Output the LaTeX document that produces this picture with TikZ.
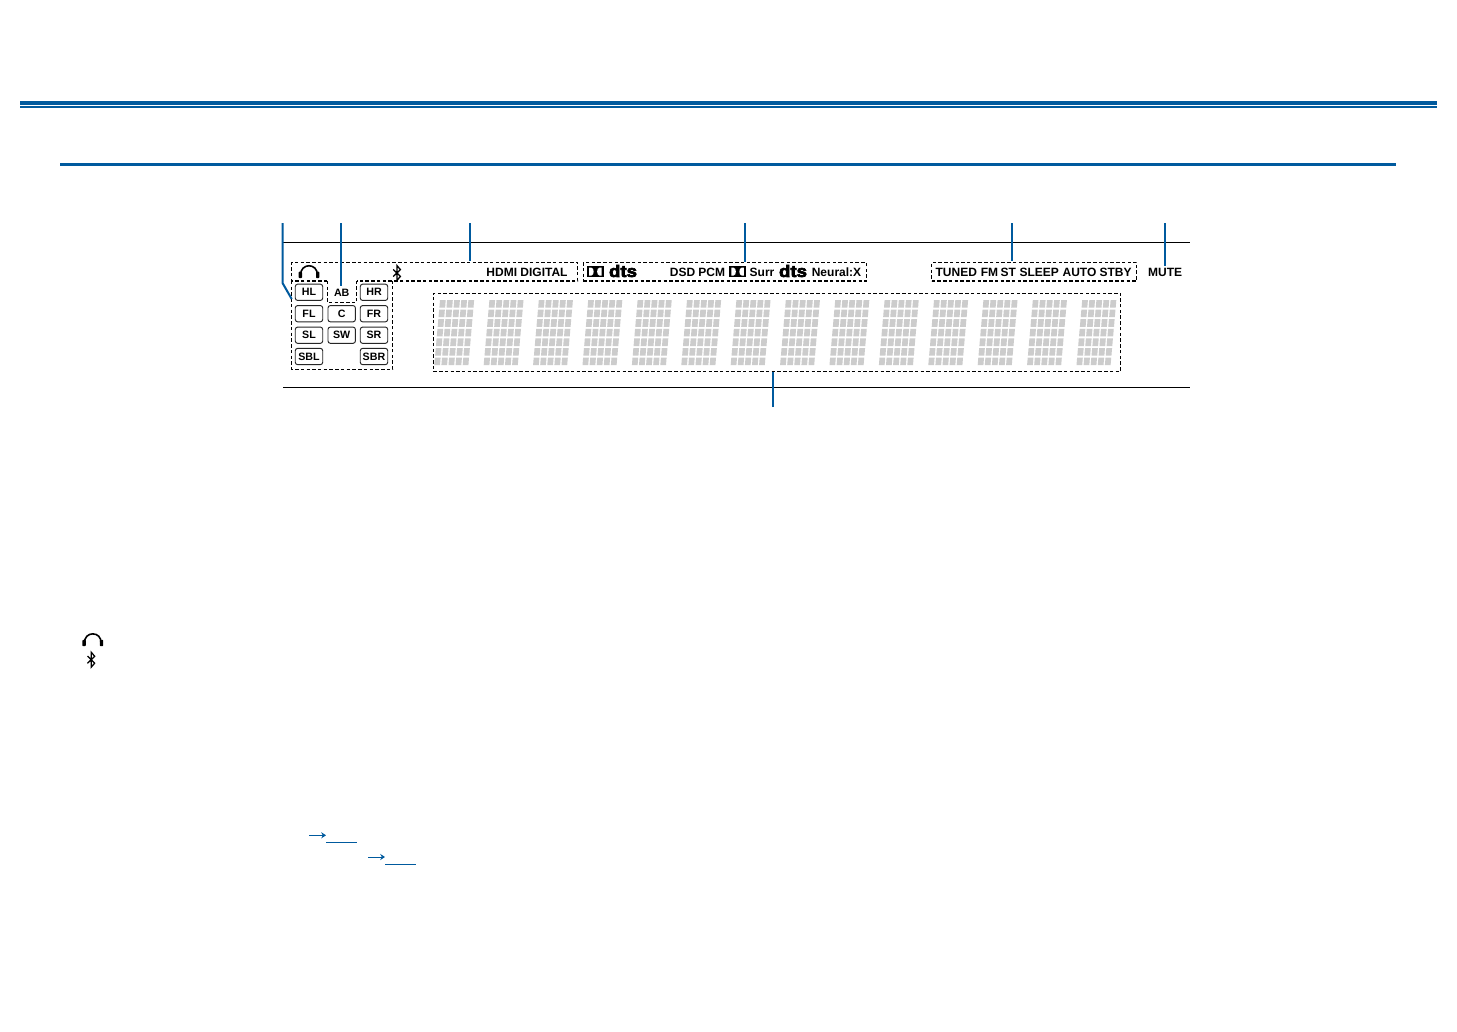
\documentclass[tikz,border=0pt]{standalone}
\usepackage{fontspec}
\usetikzlibrary{arrows.meta}
\setmainfont{Liberation Sans}
\newfontfamily\dtsfont[FakeBold=4,FakeStretch=1.12]{Liberation Sans}
\definecolor{bandblue}{HTML}{005A9E}
\definecolor{segray}{HTML}{CCCCCC}
\newcommand{\headset}[2]{%
  \begin{scope}[shift={(#1,#2)}]
    \draw[line width=1.2pt,black] (-8.2,4) .. controls (-9.4,-9) and (9.4,-9) .. (8.2,4);
    \fill[black,rounded corners=0.6pt] (-10.4,0.2) rectangle (-7,6.6);
    \fill[black,rounded corners=0.6pt] (7,0.2) rectangle (10.4,6.6);
  \end{scope}}
\newcommand{\btrune}[2]{%
  \begin{scope}[shift={(#1,#2)}]
    \draw[line width=0.95pt,black,line join=miter] (-3.8,-3.6) -- (3.4,3.4) -- (0,7.4) -- (0,-7.4) -- (3.4,-3.4) -- (-3.8,3.6);
  \end{scope}}
\newcommand{\dolbymark}[2]{%
  \begin{scope}[shift={(#1,#2)}]
    \fill[black] (-8.7,-5.8) rectangle (8.7,5.8);
    \fill[white] (-6.2,-3.9) -- (-4,-3.9) .. controls (-1,-3.9) and (-1,3.9) .. (-4,3.9) -- (-6.2,3.9) -- cycle;
    \fill[white] (6.2,-3.9) -- (4,-3.9) .. controls (1,-3.9) and (1,3.9) .. (4,3.9) -- (6.2,3.9) -- cycle;
  \end{scope}}
\tikzset{
  leader/.style={draw=bandblue,line width=1.5pt},
  rulek/.style={draw=black,line width=0.75pt},
  dbox/.style={draw=black,line width=0.85pt,dash pattern=on 2.6pt off 1.7pt},
  dboxn/.style={dbox,rectangle,inner sep=0pt},
  spk/.style={draw=black!85,line width=0.7pt,rounded corners=1.8pt,minimum width=20.6pt,minimum height=12.2pt,inner sep=0pt,font=\fontsize{8}{9}\selectfont\bfseries},
  lab/.style={inner sep=0pt,font=\fontsize{9}{10}\selectfont\bfseries},
  dtslab/.style={inner sep=0pt,font=\fontsize{12.5}{14}\dtsfont\bfseries},
  link/.style={draw=bandblue,line width=0.75pt},
}
\begin{document}
\begin{tikzpicture}[x=0.75pt,y=-0.75pt]
\useasboundingbox (0,0) rectangle (1457,1032);
\fill[white] (0,0) rectangle (1457,1032);
% header bands
\fill[bandblue] (20,101) rectangle (1437,105.2);
\fill[bandblue] (20,106.2) rectangle (1437,108);
\fill[bandblue] (60,163) rectangle (1396,166);
% display rules
\coordinate (ruleTL) at (283,242.3);
\coordinate (ruleTR) at (1190,242.3);
\coordinate (ruleBL) at (283,387.3);
\coordinate (ruleBR) at (1190,387.3);
\draw[rulek] (ruleTL) -- (ruleTR);
\draw[rulek] (ruleBL) -- (ruleBR);
% dashed groups
\coordinate (a1) at (291.7,262.4);
\coordinate (a2) at (577.7,262.4);
\coordinate (a3) at (577.7,281);
\coordinate (a4) at (356.7,281);
\coordinate (a5) at (327.3,281);
\coordinate (a6) at (291.7,281);
\coordinate (a7) at (291.7,369.4);
\coordinate (a8) at (392.7,369.4);
\coordinate (a9) at (392.7,281);
\coordinate (a10) at (327.3,302.3);
\coordinate (a11) at (356.7,302.3);
\draw[dbox] (a5) -- (a6) -- (a1) -- (a2) -- (a3) -- (a4);
\draw[dbox] (a6) -- (a7) -- (a8) -- (a9);
\draw[dbox] (a5) -- (a10) -- (a11) -- (a4);
\node[dboxn,minimum width={283.4*0.75pt},minimum height={18.4*0.75pt}] (boxfmt) at (725,271.8) {};
\node[dboxn,minimum width={205*0.75pt},minimum height={18.6*0.75pt}] (boxtun) at (1034.2,271.7) {};
\node[dboxn,minimum width={687.4*0.75pt},minimum height={77.8*0.75pt}] (boxmsg) at (777,332.2) {};
% 14 dot-matrix digits
\foreach \d in {0,...,13}{
  \foreach \r in {0,...,6}{
    \foreach \c in {0,...,4}{
      \pgfmathsetmacro{\xx}{440+49.4*\d+7.1*\c-0.85*\r}
      \pgfmathsetmacro{\yy}{300+9.6*\r}
      \fill[segray] (\xx,\yy) -- ++(5.7,0) -- ++(-0.6,7.6) -- ++(-5.7,0) -- cycle;
    }
  }
}
% speaker buttons
\node[spk] (hl) at (309,292.3) {HL};
\node[inner sep=0pt,font=\fontsize{8}{9}\selectfont\bfseries] (ab) at (341.7,292.5) {AB};
\node[spk] (hr) at (374,292.3) {HR};
\node[spk] (fl) at (309,313.7) {FL};
\node[spk] (cc) at (341.7,313.7) {C};
\node[spk] (fr) at (374,313.7) {FR};
\node[spk] (sl) at (309,335.2) {SL};
\node[spk] (sw) at (341.7,335.2) {SW};
\node[spk] (sr) at (374,335.2) {SR};
\node[spk] (sbl) at (309,356.5) {SBL};
\node[spk] (sbr) at (374,356.5) {SBR};
% format indicators
\headset{309}{271.5}
\btrune{397}{273}
\node[lab] (hdmi) at (527,272) {HDMI DIGITAL};
\dolbymark{595.4}{271.6}
\node[dtslab] (dtsa) at (623,271) {dts};
\node[lab] (dsd) at (697.5,272) {DSD PCM};
\dolbymark{737.6}{271.6}
\node[lab] (surr) at (762,272) {Surr};
\node[dtslab] (dtsb) at (793,271) {dts};
\node[lab] (neural) at (836.5,272) {Neural:X};
\node[lab] (tuned) at (956.3,272) {TUNED};
\node[lab] (fm) at (989.5,272) {FM};
\node[lab] (st) at (1008.3,272) {ST};
\node[lab] (sleep) at (1039.2,272) {SLEEP};
\node[lab] (auto) at (1079.5,272) {AUTO};
\node[lab] (stby) at (1115.5,272) {STBY};
\node[lab] (mute) at (1165.2,272) {MUTE};
% leaders
\coordinate (t1) at (282.7,223);
\coordinate (k1) at (282.7,283.3);
\coordinate (e1) at (291.7,299);
\coordinate (t2) at (340.7,223);
\coordinate (e2) at (340.7,286);
\coordinate (t3) at (470,223);
\coordinate (e3) at (470,260.7);
\coordinate (t4) at (745,223);
\coordinate (t5) at (1011.7,223);
\coordinate (e5) at (1011.7,260.7);
\coordinate (t6) at (1165,223);
\coordinate (e6) at (1165,265.7);
\coordinate (t7) at (773.3,407);
\draw[leader] (t1) -- (k1) -- (e1);
\draw[leader] (t2) -- (e2);
\draw[leader] (t3) -- (e3);
\draw[leader] (t4) -- (t4 |- boxfmt.north);
\draw[leader] (t5) -- (e5);
\draw[leader] (t6) -- (e6);
\draw[leader] (t7) -- (t7 |- boxmsg.south);
% legend icons
\headset{92.8}{639.6}
\btrune{91.3}{659.7}
% cross references
\coordinate (r1a) at (309,835.3);
\coordinate (r1b) at (326,835.3);
\coordinate (r1c) at (356.7,842.3);
\coordinate (r1d) at (326,842.3);
\coordinate (r2a) at (368.3,857);
\coordinate (r2b) at (385,857);
\coordinate (r2c) at (416,864);
\coordinate (r2d) at (385,864);
\draw[link,-{Stealth[length=3.6pt,width=4.6pt,inset=1.2pt]}] (r1a) -- (r1b);
\draw[link] (r1d) -- (r1c);
\draw[link,-{Stealth[length=3.6pt,width=4.6pt,inset=1.2pt]}] (r2a) -- (r2b);
\draw[link] (r2d) -- (r2c);
\end{tikzpicture}
\end{document}
